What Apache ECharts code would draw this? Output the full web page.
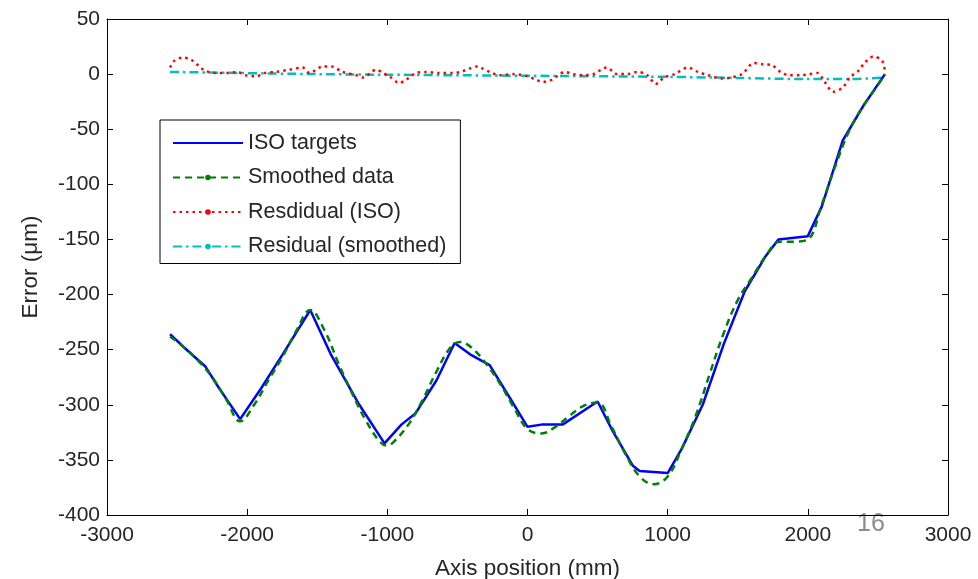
<!DOCTYPE html>
<html>
<head>
<meta charset="utf-8">
<script src="https://cdn.jsdelivr.net/npm/echarts@6/dist/echarts.min.js"></script>
<style>html,body{margin:0;padding:0;background:#fff}#c{width:978px;height:579px}</style>
</head>
<body>
<div id="c"></div>
<script>
// ---- data ----
const seriesNames = ['ISO targets', 'Smoothed data', 'Resdidual (ISO)', 'Residual (smoothed)'];
const xTicks = [-3000, -2000, -1000, 0, 1000, 2000, 3000];
const yTicks = [50, 0, -50, -100, -150, -200, -250, -300, -350, -400];

const isoX = [-2550,-2450,-2300,-2200,-2050,-1900,-1750,-1550,-1400,-1200,-1020,-900,-800,-650,-520,-400,-270,-120,0,100,250,500,600,750,800,1000,1100,1250,1400,1550,1700,1790,2000,2100,2250,2400,2550];
const isoY = [-236,-248,-265,-285,-313,-285,-255,-214,-255,-300,-335,-318,-308,-278,-244,-255,-264,-295,-320,-318,-318,-297,-322,-355,-360,-362,-340,-300,-245,-197,-165,-150,-147,-120,-60,-28,0];

const smoothX = [-2550,-2450,-2350,-2250,-2150,-2050,-1950,-1850,-1750,-1650,-1550,-1450,-1350,-1250,-1150,-1050,-1000,-950,-850,-750,-650,-550,-480,-400,-300,-200,-100,0,100,200,300,400,500,600,700,800,900,1000,1100,1200,1300,1400,1500,1600,1700,1800,1900,2000,2100,2200,2300,2400,2500,2550];
const smoothY = [-238,-248,-260,-275,-295,-315,-300,-278,-257,-233,-214,-232,-262,-290,-315,-334,-337,-333,-318,-296,-270,-248,-243,-248,-262,-280,-302,-322,-326,-320,-310,-301,-298,-320,-345,-365,-372,-365,-340,-310,-272,-235,-205,-185,-165,-152,-152,-150,-118,-82,-50,-28,-10,0];

const resIsoX = [-2550,-2520,-2460,-2400,-2350,-2300,-2220,-2130,-2070,-2010,-1935,-1875,-1795,-1700,-1605,-1555,-1460,-1400,-1320,-1220,-1175,-1080,-1030,-985,-915,-865,-795,-725,-630,-535,-475,-415,-355,-320,-270,-200,-100,0,60,110,160,220,265,325,400,470,565,640,710,785,855,915,975,1050,1145,1215,1290,1385,1455,1530,1615,1675,1745,1805,1865,1950,2010,2070,2120,2180,2250,2300,2360,2410,2470,2530,2550];
const resIsoY = [6,12,15,13,8,3,1,1,2,-1,-2,1,2,4,6,1,7,7,2,-1,-3,4,1,-2,-8,-5,1,2,1,1,2,5,7,5,2,-1,0,-2,-5,-7,-6,-1,2,0,-1,0,6,0,0,2,-1,-9,-3,0,6,2,-1,-4,-3,0,10,9,8,2,-1,-1,0,1,-7,-16,-12,-3,3,11,16,12,3];

const resSmX = [-2550,-1500,0,1000,1500,2000,2300,2550];
const resSmY = [2,0,-1.5,-2.5,-3.5,-4.5,-4.5,-3];

// ---- build ----
const zip = (xs, ys) => xs.map((x, i) => [x, ys[i]]);
const FONT = 'Liberation Sans, Arial, sans-serif';
const TXT = '#262626';

const chart = echarts.init(document.getElementById('c'), null, {renderer: 'canvas'});

const baseAxis = {
  axisLine: {show: true, onZero: false, lineStyle: {color: '#000', width: 1}},
  axisTick: {show: true, inside: true, length: 6, lineStyle: {color: '#000'}},
  splitLine: {show: false}
};

chart.setOption({
  backgroundColor: '#fff',
  animation: false,
  grid: {left: 107, right: 30, top: 19, bottom: 64, containLabel: false, outerBoundsMode: 'none'},
  legend: {
    orient: 'vertical',
    left: 160, top: 120,
    backgroundColor: '#fff',
    borderColor: '#000', borderWidth: 1,
    padding: [12, 14, 6, 12],
    itemWidth: 70, itemHeight: 7, itemGap: 12.5,
    textStyle: {fontFamily: FONT, fontSize: 21.5, color: TXT, lineHeight: 22},
    data: [
      {name: seriesNames[0], itemStyle: {opacity: 0}},
      seriesNames[1], seriesNames[2], seriesNames[3]
    ]
  },
  xAxis: [
    Object.assign({}, baseAxis, {
      type: 'value', min: -3000, max: 3000, interval: 1000, position: 'bottom',
      axisLabel: {show: true, fontFamily: FONT, fontSize: 21, color: TXT, margin: 10,
                  showMinLabel: true, showMaxLabel: true,
                  formatter: v => xTicks.indexOf(v) >= 0 ? String(v) : ''},
      name: 'Axis position (mm)', nameLocation: 'middle', nameGap: 42,
      nameTextStyle: {fontFamily: FONT, fontSize: 22.5, color: TXT}
    }),
    Object.assign({}, baseAxis, {
      type: 'value', min: -3000, max: 3000, interval: 1000, position: 'top',
      axisLabel: {show: false}
    })
  ],
  yAxis: [
    Object.assign({}, baseAxis, {
      type: 'value', min: -400, max: 50, interval: 50, position: 'left',
      axisLabel: {show: true, fontFamily: FONT, fontSize: 21, color: TXT, margin: 7,
                  showMinLabel: true, showMaxLabel: true,
                  formatter: v => yTicks.indexOf(v) >= 0 ? String(v) : ''},
      name: 'Error (\u03bcm)', nameLocation: 'middle', nameGap: 65, nameRotate: 90,
      nameTextStyle: {fontFamily: FONT, fontSize: 22.5, color: TXT}
    }),
    Object.assign({}, baseAxis, {
      type: 'value', min: -400, max: 50, interval: 50, position: 'right',
      axisLabel: {show: false}
    })
  ],
  series: [
    {
      name: seriesNames[0], type: 'line', data: zip(isoX, isoY),
      symbol: 'none', showSymbol: false,
      lineStyle: {color: '#0000ff', width: 2.5},
      itemStyle: {color: '#0000ff'}, z: 3
    },
    {
      name: seriesNames[1], type: 'line', data: zip(smoothX, smoothY), smooth: 0.4,
      symbol: 'circle', symbolSize: 6, showSymbol: false,
      lineStyle: {color: '#008000', width: 2.5, type: [7, 5]},
      itemStyle: {color: '#008000'}, z: 4
    },
    {
      name: seriesNames[2], type: 'line', data: zip(resIsoX, resIsoY), smooth: 0.3,
      symbol: 'circle', symbolSize: 6, showSymbol: false,
      lineStyle: {color: '#ff0000', width: 2.5, type: [2.5, 4]},
      itemStyle: {color: '#ff0000'}, z: 2
    },
    {
      name: seriesNames[3], type: 'line', data: zip(resSmX, resSmY), smooth: 0.3,
      symbol: 'circle', symbolSize: 6, showSymbol: false,
      lineStyle: {color: '#00bfbf', width: 2.5, type: [9, 4, 2.5, 4]},
      itemStyle: {color: '#00bfbf'}, z: 1
    }
  ],
  graphic: [
    {type: 'text', left: 857, top: 512,
     style: {text: '16', fontFamily: FONT, fontSize: 25, fill: '#8c8c8c'}}
  ]
});
</script>
</body>
</html>
